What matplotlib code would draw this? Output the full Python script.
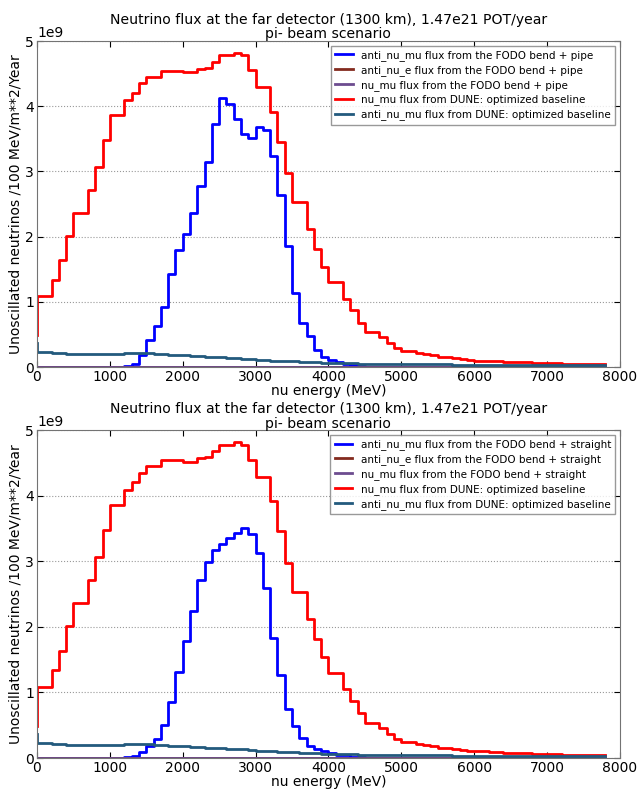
import numpy as np
import matplotlib
matplotlib.use("Agg")
import matplotlib.pyplot as plt

# energy points (MeV), 100 MeV bins, drawn as steps (pre)
energy = np.arange(0, 7900, 100)

# nu_mu flux from DUNE optimized baseline (units of 1e9), same in both panels
dune_numu = [0.49, 1.09, 1.09, 1.34, 1.64, 2.01, 2.36, 2.36, 2.71, 3.07,
             3.48, 3.86, 3.86, 4.09, 4.21, 4.35, 4.45, 4.45, 4.54, 4.54,
             4.54, 4.52, 4.52, 4.57, 4.59, 4.68, 4.78, 4.78, 4.82, 4.78,
             4.55, 4.29, 4.29, 3.92, 3.46, 2.98, 2.53, 2.53, 2.12, 1.81,
             1.54, 1.30, 1.30, 1.05, 0.87, 0.68, 0.54, 0.54, 0.46, 0.37,
             0.29, 0.25, 0.25, 0.22, 0.20, 0.18, 0.16, 0.16, 0.14, 0.12,
             0.11, 0.10, 0.10, 0.09, 0.085, 0.08, 0.075, 0.075, 0.07, 0.065,
             0.06, 0.055, 0.055, 0.05, 0.05, 0.048, 0.045, 0.045, 0.045]

# anti_nu_mu flux from DUNE optimized baseline
dune_anumu = [0.37, 0.23, 0.23, 0.21, 0.21, 0.20, 0.20, 0.20, 0.20, 0.195,
              0.195, 0.20, 0.20, 0.21, 0.21, 0.21, 0.21, 0.205, 0.20, 0.19,
              0.185, 0.18, 0.17, 0.165, 0.16, 0.155, 0.15, 0.14, 0.135, 0.13,
              0.12, 0.11, 0.105, 0.10, 0.095, 0.09, 0.085, 0.08, 0.075, 0.07,
              0.066, 0.062, 0.06, 0.058, 0.055, 0.053, 0.05, 0.05, 0.048, 0.046,
              0.045, 0.044, 0.043, 0.042, 0.041, 0.04, 0.04, 0.039, 0.038, 0.037,
              0.036, 0.035, 0.035, 0.034, 0.033, 0.033, 0.032, 0.032, 0.031, 0.031,
              0.03, 0.03, 0.03, 0.029, 0.029, 0.028, 0.028, 0.028, 0.027]

# anti_nu_mu from FODO bend + pipe (top panel)
fodo_pipe_anumu = [0, 0, 0, 0, 0, 0, 0, 0, 0, 0,
                   0, 0, 0, 0.01, 0.04, 0.19, 0.42, 0.63, 0.92, 1.43,
                   1.80, 2.04, 2.36, 2.77, 3.15, 3.73, 4.12, 4.03, 3.81, 3.57,
                   3.51, 3.69, 3.64, 3.23, 2.64, 1.86, 1.13, 0.67, 0.48, 0.26,
                   0.15, 0.11, 0.07, 0.045, 0.025, 0.02, 0, 0, 0, 0,
                   0, 0, 0, 0, 0, 0, 0, 0, 0, 0,
                   0, 0, 0, 0, 0, 0, 0, 0, 0, 0,
                   0, 0, 0, 0, 0, 0, 0, 0, 0]

# anti_nu_mu from FODO bend + straight (bottom panel)
fodo_straight_anumu = [0, 0, 0, 0, 0, 0, 0, 0, 0, 0,
                       0, 0, 0.005, 0.015, 0.035, 0.09, 0.19, 0.29, 0.51, 0.85,
                       1.31, 1.78, 2.24, 2.71, 2.99, 3.17, 3.26, 3.36, 3.43, 3.51,
                       3.42, 3.13, 2.60, 1.83, 1.26, 0.75, 0.49, 0.31, 0.19, 0.13,
                       0.10, 0.08, 0.05, 0.04, 0.02, 0.02, 0, 0, 0, 0,
                       0, 0, 0, 0, 0, 0, 0, 0, 0, 0,
                       0, 0, 0, 0, 0, 0, 0, 0, 0, 0,
                       0, 0, 0, 0, 0, 0, 0, 0, 0]

# anti_nu_e and nu_mu from FODO: zero everywhere on the plot
fodo_anue = [0.0] * len(energy)
fodo_numu = [0.0] * len(energy)

panels = ["pipe", "straight"]
blue_series = [fodo_pipe_anumu, fodo_straight_anumu]

title = "Neutrino flux at the far detector (1300 km), 1.47e21 POT/year\npi- beam scenario"

fig = plt.figure(figsize=(6.37, 7.91), dpi=100)
fig.patch.set_facecolor("white")
boxes = [[0.058, 0.536, 0.915, 0.412], [0.058, 0.0417, 0.915, 0.4143]]

for box, name, blue in zip(boxes, panels, blue_series):
    ax = fig.add_axes(box)
    sc = 1e9
    ax.plot(energy, np.array(blue) * sc, drawstyle="steps", color="#0000ff", lw=2,
            label="anti_nu_mu flux from the FODO bend + " + name)
    ax.plot(energy, np.array(fodo_anue) * sc, drawstyle="steps", color="#832a1e", lw=2,
            label="anti_nu_e flux from the FODO bend + " + name)
    ax.plot(energy, np.array(fodo_numu) * sc, drawstyle="steps", color="#6d4c8f", lw=2,
            label="nu_mu flux from the FODO bend + " + name)
    ax.plot(energy, np.array(dune_numu) * sc, drawstyle="steps", color="#ff0000", lw=2,
            label="nu_mu flux from DUNE: optimized baseline")
    ax.plot(energy, np.array(dune_anumu) * sc, drawstyle="steps", color="#235a7d", lw=2,
            label="anti_nu_mu flux from DUNE: optimized baseline")
    ax.set_xlim(0, 8000)
    ax.set_ylim(0, 5e9)
    ax.set_xticks(range(0, 8001, 1000))
    ax.set_yticks([0, 1e9, 2e9, 3e9, 4e9, 5e9])
    ax.tick_params(direction="in", top=True, right=True, labelsize=10, length=4, pad=2)
    ax.yaxis.get_offset_text().set_fontsize(10)
    ax.yaxis.grid(True, linestyle=":", color="0.6", lw=0.8)
    for s in ax.spines.values():
        s.set_color("0.45")
    ax.set_title(title, fontsize=10.1, pad=2, linespacing=1.05)
    ax.set_xlabel("nu energy (MeV)", fontsize=10, labelpad=0)
    ax.set_ylabel("Unoscillated neutrinos /100 MeV/m**2/Year", fontsize=10, labelpad=2)
    leg = ax.legend(loc="upper right", fontsize=7.5, borderaxespad=0.45,
                    handlelength=1.7, handletextpad=0.8, labelspacing=0.38,
                    fancybox=False)
    leg.get_frame().set_edgecolor("0.5")

fig.savefig("out.png", dpi=100, facecolor="white")
